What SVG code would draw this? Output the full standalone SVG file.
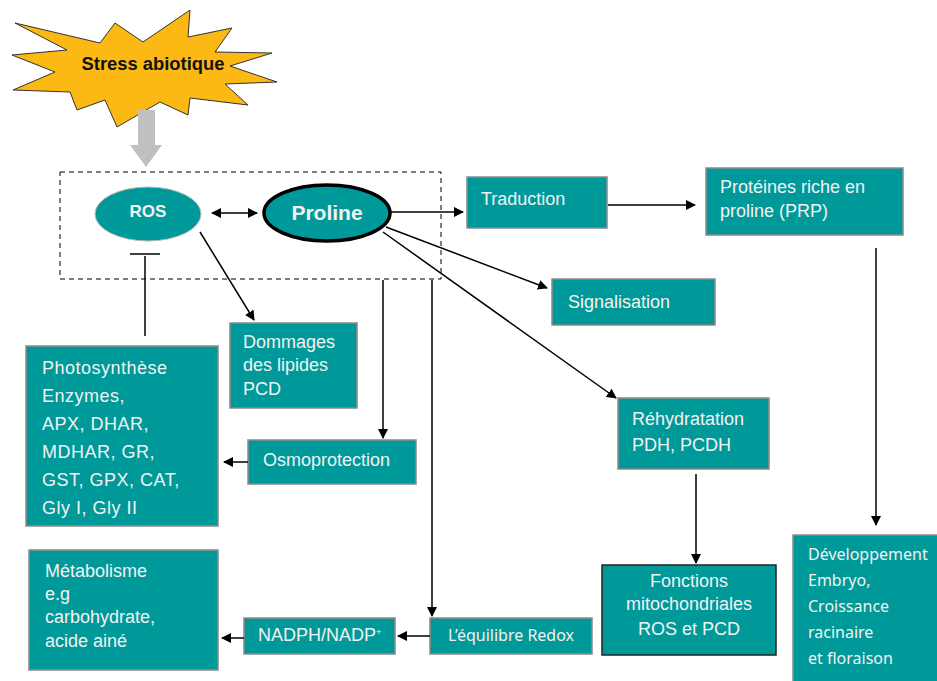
<svg xmlns="http://www.w3.org/2000/svg" width="937" height="681" viewBox="0 0 937 681">
<defs>
<marker id="ah" markerWidth="10" markerHeight="10" refX="9" refY="5" orient="auto" markerUnits="userSpaceOnUse"><path d="M0,0 L10,5 L0,10 z" fill="#000"/></marker>
<marker id="ahs" markerWidth="10" markerHeight="10" refX="1" refY="5" orient="auto" markerUnits="userSpaceOnUse"><path d="M10,0 L0,5 L10,10 z" fill="#000"/></marker>
</defs>
<style>
.box{fill:#009999;stroke:#8a8a8a;stroke-width:1.5}
.t{fill:#f2f2f2;font-family:"Liberation Sans",Arial,sans-serif;font-size:18px}
.n{fill:#f2f2f2;font-family:"Noto Sans","Open Sans",sans-serif;font-size:16px}
.c{fill:none;stroke:#000;stroke-width:1.5}
</style>
<rect width="937" height="681" fill="#fff"/>
<g id="stress">
<polygon points="15,23 100,43 115,23 143,42 190,10 188,37 232,28 215,52 272,53 230,66 277,82 225,84 248,105 190,98 188,115 160,102 117,127 105,100 77,110 70,92 13,90 55,72 12,55 67,50" fill="#FDB913" stroke="#333" stroke-width="1"/>
<text x="153" y="70" text-anchor="middle" font-family="Liberation Sans,Arial,sans-serif" font-size="17.5" font-weight="bold" fill="#111" textLength="143" lengthAdjust="spacingAndGlyphs">Stress abiotique</text>
</g>
<g id="stress-arrow">
<polygon points="138,110 155,110 155,145 162,145 146,167 130,145 138,145" fill="#c0c0c0"/>
</g>
<g id="group-box">
<rect x="60" y="172" width="381" height="107" fill="none" stroke="#000" stroke-width="1" stroke-dasharray="5,4"/>
</g>
<g id="ros">
<ellipse cx="148" cy="214" rx="53" ry="27" fill="#009999" stroke="#bbb" stroke-width="1"/>
<text x="148" y="217" text-anchor="middle" font-family="Liberation Sans,Arial,sans-serif" font-size="17" font-weight="bold" fill="#f2f2f2">ROS</text>
</g>
<g id="proline">
<ellipse cx="327" cy="213" rx="63" ry="28" fill="#009999" stroke="#000" stroke-width="3.5"/>
<text x="327" y="220" text-anchor="middle" font-family="Liberation Sans,Arial,sans-serif" font-size="21" font-weight="bold" fill="#f2f2f2">Proline</text>
</g>
<g id="dommages">
<rect class="box" x="230" y="323" width="127" height="85"/>
<text class="t" x="243" y="348">Dommages</text>
<text class="t" x="243" y="371">des lipides</text>
<text class="t" x="243" y="395">PCD</text>
</g>
<g id="photosynthese">
<rect class="box" x="26" y="346" width="192" height="180"/>
<g class="t" font-size="20" letter-spacing="0.5">
<text x="42" y="374">Photosynthèse</text>
<text x="42" y="402">Enzymes,</text>
<text x="42" y="430">APX, DHAR,</text>
<text x="42" y="458">MDHAR, GR,</text>
<text x="42" y="486">GST, GPX, CAT,</text>
<text x="42" y="514">Gly I, Gly II</text>
</g>
</g>
<g id="osmoprotection">
<rect class="box" x="248" y="440" width="168" height="44"/>
<text class="t" x="263" y="466" font-size="19.5">Osmoprotection</text>
</g>
<g id="traduction">
<rect class="box" x="467" y="177" width="140" height="51"/>
<text class="t" x="481" y="205" font-size="20.5">Traduction</text>
</g>
<g id="prp">
<rect class="box" x="706" y="168" width="197" height="67"/>
<text class="t" x="720" y="193">Protéines riche en</text>
<text class="t" x="720" y="217">proline  (PRP)</text>
</g>
<g id="signalisation">
<rect class="box" x="552" y="279" width="163" height="46"/>
<text class="t" x="568" y="308" font-size="20.5">Signalisation</text>
</g>
<g id="rehydratation">
<rect class="box" x="618" y="398" width="151" height="71"/>
<text class="t" x="632" y="425">Réhydratation</text>
<text class="t" x="632" y="451">PDH, PCDH</text>
</g>
<g id="fonctions">
<rect x="602" y="565" width="174" height="90" fill="#009999" stroke="#222" stroke-width="1.5"/>
<text class="t" x="689" y="587" font-size="15.5" text-anchor="middle">Fonctions</text>
<text class="t" x="689" y="610" font-size="15.5" text-anchor="middle">mitochondriales</text>
<text class="t" x="689" y="635" font-size="15.5" text-anchor="middle">ROS et PCD</text>
</g>
<g id="developpement">
<rect class="box" x="793" y="535" width="150" height="150"/>
<text class="n" x="808" y="560">Développement</text>
<text class="n" x="808" y="586">Embryo,</text>
<text class="n" x="808" y="612">Croissance</text>
<text class="n" x="808" y="638">racinaire</text>
<text class="n" x="808" y="664">et floraison</text>
</g>
<g id="redox">
<rect class="box" x="430" y="618" width="162" height="36"/>
<text class="n" x="448" y="641" font-size="14.5">L’équilibre Redox</text>
</g>
<g id="nadph">
<rect class="box" x="244" y="618" width="151" height="36"/>
<text class="t" x="258" y="641" font-size="12.5">NADPH/NADP<tspan font-size="9" dy="-6">+</tspan></text>
</g>
<g id="metabolisme">
<rect class="box" x="29" y="550" width="189" height="120"/>
<text class="t" x="45" y="577">Métabolisme</text>
<text class="t" x="45" y="600">e.g</text>
<text class="t" x="45" y="623">carbohydrate,</text>
<text class="t" x="45" y="647">acide ainé</text>
</g>
<g id="connectors">
<line class="c" x1="212" y1="213" x2="257" y2="213" marker-start="url(#ahs)" marker-end="url(#ah)"/>
<line class="c" x1="145" y1="256" x2="145" y2="336"/>
<line class="c" x1="130" y1="254" x2="160" y2="254"/>
<line class="c" x1="200" y1="232" x2="254" y2="320" marker-end="url(#ah)"/>
<line class="c" x1="390" y1="212" x2="463" y2="212" marker-end="url(#ah)"/>
<line class="c" x1="608" y1="205" x2="695" y2="205" marker-end="url(#ah)"/>
<line class="c" x1="386" y1="227" x2="547" y2="288" marker-end="url(#ah)"/>
<line class="c" x1="383" y1="232" x2="616" y2="398" marker-end="url(#ah)"/>
<line class="c" x1="383" y1="280" x2="383" y2="438" marker-end="url(#ah)"/>
<line class="c" x1="248" y1="462" x2="224" y2="462" marker-end="url(#ah)"/>
<line class="c" x1="432" y1="280" x2="432" y2="616" marker-end="url(#ah)"/>
<line class="c" x1="430" y1="636" x2="398" y2="636" marker-end="url(#ah)"/>
<line class="c" x1="244" y1="638" x2="222" y2="638" marker-end="url(#ah)"/>
<line class="c" x1="696" y1="474" x2="696" y2="563" marker-end="url(#ah)"/>
<line class="c" x1="876" y1="248" x2="876" y2="525" marker-end="url(#ah)"/>
</g>
</svg>
